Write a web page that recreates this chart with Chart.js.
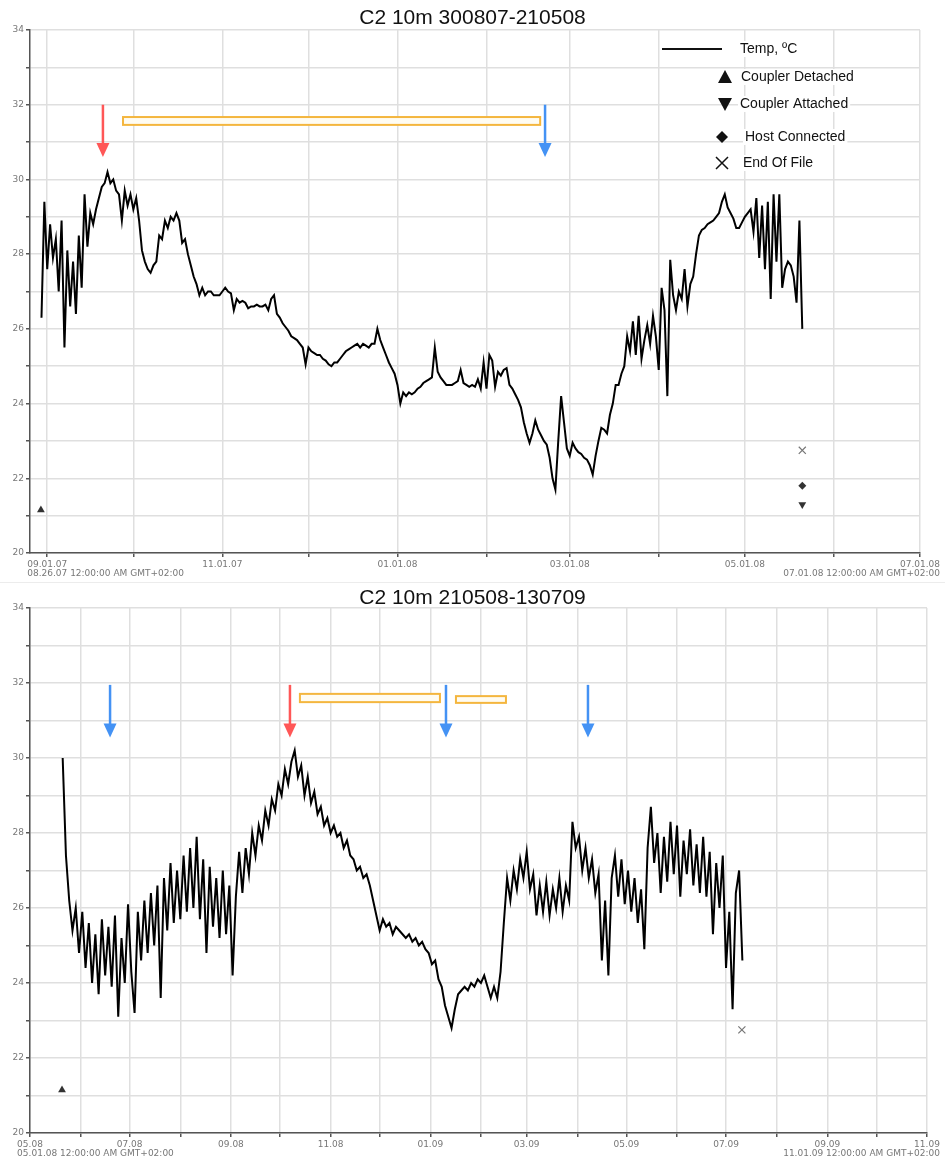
<!DOCTYPE html>
<html>
<head>
<meta charset="utf-8">
<title>C2 10m temperature logs</title>
<script src="https://cdn.jsdelivr.net/npm/chart.js@4.4.1/dist/chart.umd.min.js"></script>
<style>
  html, body { margin: 0; padding: 0; background: #fff; }
  body { width: 945px; height: 1158px; position: relative; overflow: hidden; }
  .panel { position: absolute; left: 0; width: 945px; }
  #topPanel { top: 0; height: 580px; }
  #bottomPanel { top: 580px; height: 578px; }
  .sep { position: absolute; left: 0; top: 582px; width: 945px; height: 1px; background: #ececec; }
</style>
</head>
<body>
<div class="panel" id="topPanel"><canvas id="topChart"></canvas></div>
<div class="sep"></div>
<div class="panel" id="bottomPanel"><canvas id="bottomChart"></canvas></div>
<script>
// ---- top log: C2 10m 300807-210508, x = days since 26 Aug 2007, one reading a day ----
const topStartDay = 4;
const topTemps = [
  26.3, 29.4, 27.6, 28.8, 27.9, 28.4, 27.0, 28.9, 25.5, 28.1,
  26.6, 27.8, 26.4, 28.5, 27.1, 29.6, 28.2, 29.1, 28.8, 29.2,
  29.5, 29.8, 29.9, 30.2, 29.9, 30.0, 29.7, 29.6, 28.9, 29.7,
  29.3, 29.6, 29.2, 29.5, 28.9, 28.1, 27.8, 27.6, 27.5, 27.7,
  27.8, 28.5, 28.4, 28.9, 28.7, 29.0, 28.9, 29.1, 28.9, 28.3,
  28.4, 28.0, 27.7, 27.4, 27.2, 26.9, 27.1, 26.9, 27.0, 27.0,
  26.9, 26.9, 26.9, 27.0, 27.1, 27.0, 26.95, 26.5, 26.8, 26.7,
  26.75, 26.7, 26.55, 26.6, 26.6, 26.65, 26.6, 26.6, 26.65, 26.5,
  26.8, 26.9, 26.4, 26.3, 26.15, 26.05, 25.95, 25.8, 25.75, 25.7,
  25.6, 25.5, 25.05, 25.5, 25.4, 25.35, 25.3, 25.3, 25.2, 25.15,
  25.05, 25.0, 25.1, 25.1, 25.2, 25.3, 25.4, 25.45, 25.5, 25.55,
  25.6, 25.5, 25.6, 25.55, 25.5, 25.6, 25.6, 26.0, 25.7, 25.5,
  25.3, 25.1, 24.95, 24.8, 24.5, 24.0, 24.3, 24.2, 24.3, 24.25,
  24.3, 24.4, 24.45, 24.55, 24.6, 24.65, 24.7, 25.5, 24.85, 24.7,
  24.6, 24.5, 24.5, 24.5, 24.55, 24.6, 24.9, 24.55, 24.5, 24.45,
  24.5, 24.45, 24.65, 24.4, 25.1, 24.4, 25.3, 25.15, 24.45, 24.85,
  24.75, 24.9, 24.95, 24.5, 24.4, 24.25, 24.1, 23.9, 23.5, 23.2,
  22.95, 23.2, 23.55, 23.3, 23.15, 23.0, 22.9, 22.55, 22.0, 21.7,
  23.0, 24.2, 23.5, 22.8, 22.6, 22.95, 22.8, 22.7, 22.65, 22.55,
  22.5, 22.35, 22.1, 22.6, 23.0, 23.35, 23.3, 23.2, 23.7, 24.0,
  24.5, 24.5, 24.8, 25.0, 25.8, 25.4, 26.2, 25.3, 26.35, 25.2,
  25.7, 26.1, 25.6, 26.35, 25.8, 24.9, 27.1, 26.5, 24.2, 27.85,
  26.9, 26.5, 27.0, 26.8, 27.6, 26.6, 27.2, 27.4, 28.0, 28.5,
  28.65, 28.7, 28.8, 28.85, 28.9, 29.0, 29.1, 29.4, 29.6, 29.25,
  29.1, 28.95, 28.7, 28.7, 28.85, 29.0, 29.1, 29.2, 28.6, 29.5,
  27.9, 29.3, 27.6, 29.4, 26.8, 29.6, 27.8, 29.6, 27.1, 27.6,
  27.8, 27.7, 27.4, 26.7, 28.9, 26.0
];
const topTickDays = [6, 36, 67, 97, 128, 159, 188, 219, 249, 280, 310];
const topTickLabels = ['09.01.07', '', '11.01.07', '', '01.01.08', '', '03.01.08', '', '05.01.08', '', '07.01.08'];
const topRangeLabels = ['08.26.07 12:00:00 AM GMT+02:00', '07.01.08 12:00:00 AM GMT+02:00'];
// event markers
const topDetachedDays = [3.8], topDetachedTemps = [21.15];
const topAttachedDays = [269], topAttachedTemps = [21.3];
const topHostDays = [269], topHostTemps = [21.8];
const topEofDays = [269], topEofTemps = [22.75];
// hand-drawn notes: arrows and bars
const topRedArrowDays = [25.4];
const topBlueArrowDays = [179.4];
const topArrowFrom = 32.0, topArrowTo = 30.6;
const topBarFrom = [32.4], topBarTo = [177.7];
const topBarHi = [31.67], topBarLo = [31.46];

// ---- bottom log: C2 10m 210508-130709, x = days since 1 May 2008, a reading every 2 days ----
const bottomStartDay = 20;
const bottomStep = 2;
const bottomTemps = [
  30.0, 27.4, 26.2, 25.4, 26.0, 24.8, 25.9, 24.4, 25.6, 24.0,
  25.3, 23.7, 25.7, 24.2, 25.5, 23.9, 25.8, 23.1, 25.2, 24.0,
  26.1, 24.3, 23.2, 25.9, 24.6, 26.2, 24.8, 26.4, 25.0, 26.6,
  23.6, 26.8, 25.4, 27.2, 25.6, 27.0, 25.7, 27.4, 25.9, 27.6,
  26.0, 27.9, 25.7, 27.3, 24.8, 27.1, 25.5, 26.8, 25.2, 27.0,
  25.3, 26.6, 24.2, 26.3, 27.5, 26.4, 27.6, 26.9, 28.0, 27.4,
  28.2, 27.8, 28.6, 28.2, 28.9, 28.6, 29.3, 29.0, 29.7, 29.3,
  29.9, 30.2, 29.5, 29.8, 29.0, 29.5, 28.8, 29.1, 28.5, 28.7,
  28.2, 28.4, 28.0, 28.2, 27.9, 28.0, 27.6, 27.8, 27.4, 27.3,
  27.0, 27.1, 26.8, 26.9, 26.6, 26.2, 25.8, 25.4, 25.7, 25.5,
  25.6, 25.3, 25.5, 25.4, 25.3, 25.2, 25.3, 25.1, 25.2, 25.0,
  25.1, 24.9, 24.8, 24.5, 24.6, 24.1, 23.9, 23.4, 23.1, 22.8,
  23.3, 23.7, 23.8, 23.9, 23.8, 24.0, 23.9, 24.1, 24.0, 24.2,
  23.9, 23.6, 23.9, 23.6, 24.3, 25.6, 26.8, 26.2, 27.0, 26.5,
  27.3, 26.8, 27.5, 26.5, 26.9, 25.8, 26.6, 25.9, 26.7, 25.8,
  26.5, 26.0, 26.8, 25.9, 26.6, 26.2, 28.3, 27.6, 27.9, 27.0,
  27.6, 26.8, 27.3, 26.4, 26.9, 24.6, 26.2, 24.2, 26.8, 27.4,
  26.3, 27.3, 26.1, 27.0, 25.9, 26.8, 25.6, 26.5, 24.9, 27.6,
  28.7, 27.2, 28.0, 26.4, 27.9, 26.7, 28.3, 26.9, 28.2, 26.3,
  27.8, 26.9, 28.1, 26.6, 27.7, 26.4, 27.9, 26.3, 27.5, 25.3,
  27.2, 26.0, 27.4, 24.4, 25.9, 23.3, 26.4, 27.0, 24.6
];
const bottomTickDays = [0, 31, 61, 92, 123, 153, 184, 214, 245, 276, 304, 335, 365, 396, 426, 457, 488, 518, 549];
const bottomTickLabels = ['05.08', '', '07.08', '', '09.08', '', '11.08', '', '01.09', '', '03.09', '', '05.09', '', '07.09', '', '09.09', '', '11.09'];
const bottomRangeLabels = ['05.01.08 12:00:00 AM GMT+02:00', '11.01.09 12:00:00 AM GMT+02:00'];
const bottomDetachedDays = [19.6], bottomDetachedTemps = [21.15];
const bottomEofDays = [435.7], bottomEofTemps = [22.75];
const bottomRedArrowDays = [159.1];
const bottomBlueArrowDays = [49, 254.6, 341.5];
const bottomArrowFrom = 31.95, bottomArrowTo = 30.55;
const bottomBarFrom = [165.2, 260.7], bottomBarTo = [250.9, 291.3];
const bottomBarHi = [31.71, 31.65], bottomBarLo = [31.49, 31.47];

const tickFont = { family: 'DejaVu Sans', size: 9 };
const RED = '#ff5757', BLUE = '#4492f4', AMBER = '#f4b63e';

function points(xs, ys) {
  return ys.map((v, i) => ({ x: xs[i], y: v }));
}

function markerSet(xs, ys, style, rotation, radius, color) {
  return {
    data: points(xs, ys), showLine: false, pointStyle: style, rotation: rotation,
    pointRadius: radius, pointBackgroundColor: color, pointBorderColor: color,
    pointBorderWidth: style === 'crossRot' ? 1.2 : 0
  };
}

function drawArrow(ctx, x, yTail, yTip, color) {
  ctx.strokeStyle = color;
  ctx.fillStyle = color;
  ctx.lineWidth = 2.5;
  ctx.beginPath();
  ctx.moveTo(x, yTail);
  ctx.lineTo(x, yTip - 12);
  ctx.stroke();
  ctx.beginPath();
  ctx.moveTo(x - 6.5, yTip - 14);
  ctx.lineTo(x + 6.5, yTip - 14);
  ctx.lineTo(x, yTip);
  ctx.closePath();
  ctx.fill();
}

// title, arrows, bars and the start/end date captions under the axis
function notesPlugin(n) {
  return {
    id: 'notes',
    afterDatasetsDraw(chart) {
      const { ctx, scales: { x, y } } = chart;
      ctx.save();
      n.barFrom.forEach((from, i) => {
        const x0 = x.getPixelForValue(from), x1 = x.getPixelForValue(n.barTo[i]);
        const y0 = y.getPixelForValue(n.barHi[i]), y1 = y.getPixelForValue(n.barLo[i]);
        ctx.fillStyle = '#fffcf2';
        ctx.fillRect(x0, y0, x1 - x0, y1 - y0);
        ctx.strokeStyle = AMBER;
        ctx.lineWidth = 2;
        ctx.strokeRect(x0, y0, x1 - x0, y1 - y0);
      });
      const yTail = y.getPixelForValue(n.arrowFrom), yTip = y.getPixelForValue(n.arrowTo);
      n.red.forEach(d => drawArrow(ctx, x.getPixelForValue(d), yTail, yTip, RED));
      n.blue.forEach(d => drawArrow(ctx, x.getPixelForValue(d), yTail, yTip, BLUE));

      ctx.font = '9px "DejaVu Sans"';
      ctx.fillStyle = '#777';
      ctx.textBaseline = 'middle';
      const first = n.tickLabels[0], last = n.tickLabels[n.tickLabels.length - 1];
      const left = x.getPixelForValue(n.tickDays[0]) - ctx.measureText(first).width / 2;
      const right = x.getPixelForValue(n.tickDays[n.tickDays.length - 1]) + ctx.measureText(last).width / 2;
      const yy = chart.chartArea.bottom + 21;
      ctx.textAlign = 'left';
      ctx.fillText(n.range[0], left, yy);
      ctx.textAlign = 'right';
      ctx.fillText(n.range[1], right, yy);

      ctx.font = '21px "Liberation Sans", Arial, sans-serif';
      ctx.fillStyle = '#111';
      ctx.textAlign = 'center';
      ctx.fillText(n.title, chart.width / 2, n.titleY);
      ctx.restore();
    }
  };
}

// legend box of the upper panel
const legendPlugin = {
  id: 'legendBox',
  afterDraw(chart) {
    const ctx = chart.ctx;
    ctx.save();
    ctx.font = '14px "Liberation Sans", Arial, sans-serif';
    ctx.textBaseline = 'middle';
    ctx.textAlign = 'left';
    const rows = [
      ['Temp, \u00baC', 740, 49], ['Coupler Detached', 741, 77], ['Coupler Attached', 740, 104],
      ['Host Connected', 745, 137], ['End Of File', 743, 163]
    ];
    rows.forEach(r => {
      const w = ctx.measureText(r[0]).width;
      ctx.fillStyle = '#fff';
      ctx.fillRect(r[1] - 2, r[2] - 8, w + 4, 16);
      ctx.fillStyle = '#111';
      ctx.fillText(r[0], r[1], r[2]);
    });
    ctx.strokeStyle = '#111';
    ctx.lineWidth = 2;
    ctx.beginPath(); ctx.moveTo(662, 49); ctx.lineTo(722, 49); ctx.stroke();
    ctx.fillStyle = '#111';
    ctx.beginPath(); ctx.moveTo(718, 83); ctx.lineTo(732, 83); ctx.lineTo(725, 70); ctx.closePath(); ctx.fill();
    ctx.beginPath(); ctx.moveTo(718, 98); ctx.lineTo(732, 98); ctx.lineTo(725, 111); ctx.closePath(); ctx.fill();
    ctx.beginPath(); ctx.moveTo(722, 131); ctx.lineTo(728, 137); ctx.lineTo(722, 143); ctx.lineTo(716, 137); ctx.closePath(); ctx.fill();
    ctx.lineWidth = 1.5;
    ctx.beginPath();
    ctx.moveTo(716, 157); ctx.lineTo(728, 169);
    ctx.moveTo(728, 157); ctx.lineTo(716, 169);
    ctx.stroke();
    ctx.restore();
  }
};

function buildOptions(p) {
  return {
    responsive: true,
    maintainAspectRatio: false,
    animation: false,
    layout: { padding: { left: 0, right: p.rightPad, top: p.topPad, bottom: 0 } },
    plugins: {
      legend: { display: false },
      tooltip: { enabled: false },
      title: { display: false }
    },
    scales: {
      x: {
        type: 'linear',
        min: 0,
        max: p.xMax,
        afterBuildTicks: axis => { axis.ticks = p.tickDays.map(v => ({ value: v })); },
        afterFit: axis => { axis.height = p.xHeight; },
        grid: { color: '#dfdfdf', lineWidth: 1.5, tickColor: '#555', tickLength: 4 },
        border: { color: '#555', width: 1.5 },
        ticks: {
          autoSkip: false, maxRotation: 0, padding: 2, color: '#777', font: tickFont,
          callback: (v, i) => p.tickLabels[i]
        }
      },
      y: {
        min: 20,
        max: 34,
        afterFit: axis => { axis.width = 30; },
        grid: { color: '#dfdfdf', lineWidth: 1.5, tickColor: '#555', tickLength: 4 },
        border: { color: '#555', width: 1.5 },
        ticks: {
          stepSize: 1, padding: 2, color: '#777', font: tickFont,
          callback: v => (v % 2 === 0 ? v : '')
        }
      }
    }
  };
}

const topDays = topTemps.map((_, i) => topStartDay + i);
new Chart(document.getElementById('topChart'), {
  type: 'line',
  data: {
    datasets: [
      { data: points(topDays, topTemps), borderColor: '#000', borderWidth: 2, pointRadius: 0, tension: 0 },
      markerSet(topDetachedDays, topDetachedTemps, 'triangle', 0, 4.5, '#333'),
      markerSet(topAttachedDays, topAttachedTemps, 'triangle', 180, 4.5, '#333'),
      markerSet(topHostDays, topHostTemps, 'rectRot', 0, 4, '#333'),
      markerSet(topEofDays, topEofTemps, 'crossRot', 0, 5, '#777')
    ]
  },
  options: buildOptions({
    xMax: 310, tickDays: topTickDays, tickLabels: topTickLabels,
    rightPad: 25, xHeight: 27, topPad: 30
  }),
  plugins: [
    notesPlugin({
      title: 'C2 10m 300807-210508', titleY: 18,
      red: topRedArrowDays, blue: topBlueArrowDays, arrowFrom: topArrowFrom, arrowTo: topArrowTo,
      barFrom: topBarFrom, barTo: topBarTo, barHi: topBarHi, barLo: topBarLo,
      tickDays: topTickDays, tickLabels: topTickLabels, range: topRangeLabels
    }),
    legendPlugin
  ]
});

const bottomDays = bottomTemps.map((_, i) => bottomStartDay + i * bottomStep);
new Chart(document.getElementById('bottomChart'), {
  type: 'line',
  data: {
    datasets: [
      { data: points(bottomDays, bottomTemps), borderColor: '#000', borderWidth: 2, pointRadius: 0, tension: 0 },
      markerSet(bottomDetachedDays, bottomDetachedTemps, 'triangle', 0, 4.5, '#333'),
      markerSet(bottomEofDays, bottomEofTemps, 'crossRot', 0, 5, '#777')
    ]
  },
  options: buildOptions({
    xMax: 549, tickDays: bottomTickDays, tickLabels: bottomTickLabels,
    rightPad: 18, xHeight: 25, topPad: 28
  }),
  plugins: [
    notesPlugin({
      title: 'C2 10m 210508-130709', titleY: 18,
      red: bottomRedArrowDays, blue: bottomBlueArrowDays, arrowFrom: bottomArrowFrom, arrowTo: bottomArrowTo,
      barFrom: bottomBarFrom, barTo: bottomBarTo, barHi: bottomBarHi, barLo: bottomBarLo,
      tickDays: bottomTickDays, tickLabels: bottomTickLabels, range: bottomRangeLabels
    })
  ]
});
</script>
</body>
</html>
